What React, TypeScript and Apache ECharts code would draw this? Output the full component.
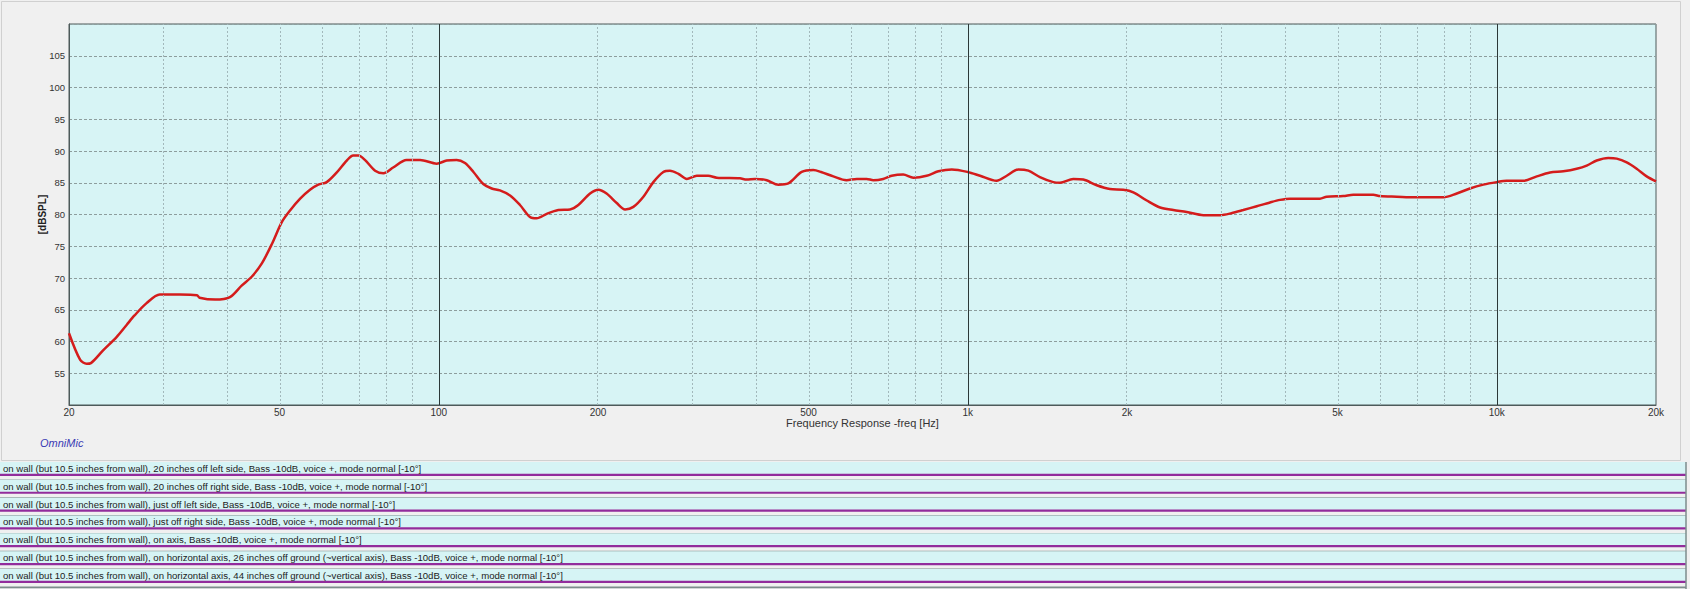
import React, { useEffect, useRef } from "react";
import * as echarts from "echarts";

// Frequency response (Hz) and level (dB SPL)
const freqHz = [
  20, 21.0, 21.6, 22.0, 23.2, 24.6, 25.7, 26.6, 28.0, 29.7, 32.4, 34.9, 35.3, 37.8, 40.3, 42.4, 44.3,
  46.3, 48.4, 50.5, 52.3, 54.7, 57.1, 59.2, 61.4, 64.1, 67.0, 68.9, 70.5, 72.5, 75.8, 78.6, 82.0,
  86.9, 92.2, 99.1, 103.5, 108.1, 112.1, 116.3, 121.4, 125.9, 130.5, 136.4, 142.4, 148.8, 153.1,
  160, 168.3, 177.1, 183.6, 193.2, 200.3, 207.6, 217, 225, 233.3, 243.7, 254.5, 265.8, 273.6,
  283.8, 294.4, 307.5, 323.2, 335.4, 371, 382, 396.2, 416.9, 438.4, 457.9, 485.4, 510.5, 528,
  557, 590, 617, 644, 663, 692, 718, 755, 789, 836, 880, 933, 1000, 1055, 1134, 1185, 1246, 1302,
  1369, 1451, 1494, 1583, 1654, 1753, 1857, 1968, 2056, 2180, 2310, 2447, 2594, 2789, 3000, 3150,
  3318, 3518, 3727, 3893, 4066, 4633, 4769, 5127, 5355, 5843, 6018, 6471, 7000, 7926, 8402, 8898,
  9431, 10000, 10442, 11228, 11902, 12610, 13362, 14162, 14791, 15449, 16250, 16857, 17606, 18386,
  19205, 20000,
];
const splDb = [
  61.3, 57.1, 56.5, 56.6, 58.6, 60.7, 62.6, 64.1, 66.0, 67.4, 67.4, 67.3, 66.9, 66.6, 67.0, 68.8, 70.2,
  72.3, 75.4, 78.8, 80.6, 82.5, 83.9, 84.7, 85.1, 86.6, 88.5, 89.3, 89.3, 88.6, 86.9, 86.5, 87.4,
  88.6, 88.6, 88.0, 88.5, 88.6, 88.1, 86.7, 84.8, 84.1, 83.8, 83.0, 81.5, 79.6, 79.4,
  80.1, 80.7, 80.8, 81.5, 83.3, 83.9, 83.3, 81.8, 80.8, 81.2, 82.8, 85.1, 86.7, 86.9,
  86.4, 85.6, 86.1, 86.1, 85.8, 85.7, 85.5, 85.6, 85.4, 84.7, 84.9, 86.7, 87.0, 86.7,
  86.0, 85.4, 85.6, 85.6, 85.4, 85.6, 86.1, 86.3, 85.8, 86.1, 86.8, 87.1, 86.7, 86.1, 85.3, 86.1, 87.1, 86.9,
  85.9, 85.1, 85.0, 85.6, 85.5, 84.6, 84.0, 83.9, 83.5, 82.2, 81.1, 80.7, 80.4, 79.9, 79.9, 80.2,
  80.7, 81.3, 81.9, 82.3, 82.5, 82.5, 82.8, 82.9, 83.1, 83.1, 82.9, 82.8, 82.7, 82.7, 83.3, 84.1,
  84.7, 85.1, 85.3, 85.3, 86.0, 86.6, 86.8, 87.2, 87.7, 88.5, 88.9, 88.8, 88.2, 87.2,
  86.0, 85.2,
];

const xTickHz = [20, 50, 100, 200, 500, 1000, 2000, 5000, 10000, 20000];
const xTickLabels = ["20", "50", "100", "200", "500", "1k", "2k", "5k", "10k", "20k"];
const minorGridHz = [30, 40, 50, 60, 70, 80, 90, 200, 300, 400, 500, 600, 700, 800, 900,
  2000, 3000, 4000, 5000, 6000, 7000, 8000, 9000];
const majorGridHz = [100, 1000, 10000];
const yMin = 50;
const yMax = 110;
const yStep = 5;

const legendRows = [
  "on wall (but 10.5 inches from wall), 20 inches off left side, Bass -10dB, voice +, mode normal [-10°]",
  "on wall (but 10.5 inches from wall), 20 inches off right side, Bass -10dB, voice +, mode normal [-10°]",
  "on wall (but 10.5 inches from wall), just off left side, Bass -10dB, voice +, mode normal [-10°]",
  "on wall (but 10.5 inches from wall), just off right side, Bass -10dB, voice +, mode normal [-10°]",
  "on wall (but 10.5 inches from wall), on axis, Bass -10dB, voice +, mode normal [-10°]",
  "on wall (but 10.5 inches from wall), on horizontal axis, 26 inches off ground (~vertical axis), Bass -10dB, voice +, mode normal [-10°]",
  "on wall (but 10.5 inches from wall), on horizontal axis, 44 inches off ground (~vertical axis), Bass -10dB, voice +, mode normal [-10°]",
];

const FONT = "'Liberation Sans', Arial, sans-serif";

export default function App() {
  const ref = useRef<HTMLDivElement>(null);

  useEffect(() => {
    document.body.style.margin = "0";
    if (!ref.current) return;
    const chart = echarts.init(ref.current, undefined, { renderer: "svg" });

    const rowGraphics: any[] = [];
    legendRows.forEach((label, i) => {
      const top = 462 + 17.83 * i;
      rowGraphics.push({
        type: "rect",
        shape: { x: 0, y: top, width: 1686, height: 12 },
        style: { fill: "#d6f4f5" },
        silent: true,
      });
      rowGraphics.push({
        type: "line",
        shape: { x1: 0, y1: top + 12.9, x2: 1686, y2: top + 12.9 },
        style: { stroke: "#922c9c", lineWidth: 2.2 },
        silent: true,
      });
      rowGraphics.push({
        type: "line",
        shape: { x1: 0, y1: top + 18.3, x2: 1686, y2: top + 18.3 },
        style: { stroke: "#7d8c8c", lineWidth: 1.8 },
        silent: true,
      });
      rowGraphics.push({
        type: "text",
        x: 3,
        y: top + 6.5,
        style: {
          text: label,
          fontSize: 9.6,
          fontFamily: FONT,
          fill: "#1c1c1c",
          verticalAlign: "middle",
          align: "left",
        },
        silent: true,
      });
    });
    rowGraphics.push({
      type: "line",
      shape: { x1: 1686, y1: 462, x2: 1686, y2: 589 },
      style: { stroke: "#7d8c8c", lineWidth: 1.5 },
      silent: true,
    });

    const xLabel = (v: number) => {
      for (let i = 0; i < xTickHz.length; i++) {
        if (Math.abs(Math.log10(xTickHz[i]) - v) < 1e-6) return xTickLabels[i];
      }
      return "";
    };

    const option: any = {
      animation: false,
      backgroundColor: "#f0f0f0",
      textStyle: { fontFamily: FONT },
      grid: {
        left: 69,
        right: 34,
        top: 24,
        bottom: 184,
        show: true,
        backgroundColor: "#d7f4f5",
        borderColor: "#4d5a5a",
        borderWidth: 1,
        containLabel: false,
        outerBoundsMode: "none",
      },
      xAxis: {
        type: "value",
        min: Math.log10(20),
        max: Math.log10(20000),
        splitLine: { show: false },
        axisTick: { show: false },
        axisLine: { show: true, lineStyle: { color: "#4d5a5a" } },
        axisLabel: {
          customValues: xTickHz.map((f) => Math.log10(f)),
          formatter: xLabel,
          fontSize: 10,
          color: "#333",
          margin: 2,
          showMinLabel: true,
          showMaxLabel: true,
          hideOverlap: false,
        },
        name: "Frequency Response -freq [Hz]",
        nameLocation: "middle",
        nameGap: 12,
        nameMoveOverlap: false,
        nameTextStyle: { fontSize: 11, color: "#333" },
      },
      yAxis: {
        type: "value",
        min: yMin,
        max: yMax,
        interval: yStep,
        axisLine: { show: true, lineStyle: { color: "#4d5a5a" } },
        axisTick: { show: false },
        axisLabel: {
          formatter: (v: number) => (v === yMin || v === yMax ? "" : String(v)),
          fontSize: 9.5,
          color: "#333",
          margin: 4,
        },
        splitLine: { show: true, lineStyle: { color: "#8d9d9d", type: [3, 2], width: 1 } },
        name: "[dBSPL]",
        nameLocation: "middle",
        nameGap: 22,
        nameMoveOverlap: false,
        nameTextStyle: { fontSize: 10, fontWeight: "bold", color: "#222" },
      },
      graphic: [
        {
          type: "rect",
          shape: { x: 1.5, y: 1.5, width: 1679, height: 459 },
          style: { fill: "none", stroke: "#d0d0d0", lineWidth: 1 },
          silent: true,
        },
        {
          type: "text",
          x: 40,
          y: 443,
          style: {
            text: "OmniMic",
            fontSize: 11,
            fontStyle: "italic",
            fontFamily: FONT,
            fill: "#3b3bb4",
            verticalAlign: "middle",
          },
          silent: true,
        },
        ...rowGraphics,
      ],
      series: [
        {
          type: "line",
          data: [],
          silent: true,
          markLine: {
            silent: true,
            symbol: ["none", "none"],
            label: { show: false },
            animation: false,
            data: [
              ...minorGridHz.map((f) => ({
                xAxis: Math.log10(f),
                lineStyle: { color: "#a2b8bb", type: [2, 2], width: 1 },
              })),
              ...majorGridHz.map((f) => ({
                xAxis: Math.log10(f),
                lineStyle: { color: "#2b3838", type: "solid", width: 1 },
              })),
            ],
          },
        },
        {
          type: "line",
          data: freqHz.map((f, i) => [Math.log10(f), splDb[i]]),
          showSymbol: false,
          smooth: 0.3,
          lineStyle: { color: "#d41c1c", width: 2.5 },
          silent: true,
        },
      ],
    };

    chart.setOption(option);
    return () => chart.dispose();
  }, []);

  return <div ref={ref} style={{ width: 1690, height: 589 }} />;
}
